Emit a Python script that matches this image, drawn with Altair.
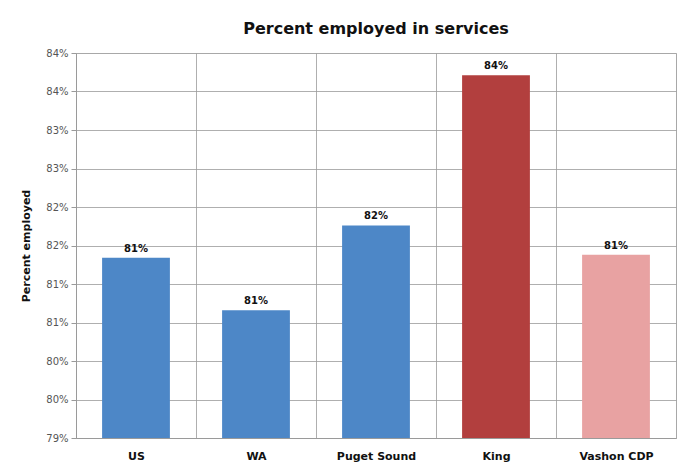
import altair as alt
import pandas as pd

categories = ["US", "WA", "Puget Sound", "King", "Vashon CDP"]
values = [81.34, 80.66, 81.76, 83.71, 81.38]
colors = ["#4d87c7", "#4d87c7", "#4d87c7", "#b23f3e", "#e8a2a2"]
y_ticks = [79.0, 79.5, 80.0, 80.5, 81.0, 81.5, 82.0, 82.5, 83.0, 83.5, 84.0]

df = pd.DataFrame({"category": categories, "value": values, "color": colors, "base": [79.0] * 5})

base = alt.Chart(df).encode(
    x=alt.X(
        "category:N",
        sort=categories,
        title=None,
        scale=alt.Scale(paddingInner=0, paddingOuter=0),
        axis=alt.Axis(
            grid=True,
            tickBand="extent",
            gridColor="#9a9a9a",
            gridWidth=0.8,
            domainColor="#9a9a9a",
            ticks=False,
            labelFont="DejaVu Sans",
            labelFontWeight="bold",
            labelFontSize=11,
            labelColor="#111111",
            labelPadding=12,
            labelAngle=0,
        ),
    ),
)

yscale = alt.Scale(domain=[79, 84], zero=False, nice=False)
yaxis = alt.Axis(
    values=y_ticks,
    labelExpr="round(datum.value) + '%'",
    labelOverlap=False,
    grid=True,
    gridColor="#9a9a9a",
    gridWidth=0.8,
    domainColor="#9a9a9a",
    tickColor="#9a9a9a",
    tickSize=5,
    labelFont="DejaVu Sans",
    labelFontSize=10,
    labelColor="#555555",
    labelPadding=3,
    titleFont="DejaVu Sans",
    titleFontWeight="bold",
    titleFontSize=11,
    titleColor="#111111",
    titlePadding=14,
)

bars = base.mark_bar(stroke=None, width=alt.RelativeBandSize(0.565)).encode(
    y=alt.Y("value:Q", title="Percent employed", scale=yscale, axis=yaxis),
    y2="base:Q",
    color=alt.Color("color:N", scale=None, legend=None),
)

labels = base.mark_text(
    dy=-9, font="DejaVu Sans", fontWeight="bold", fontSize=10, color="#111111"
).encode(
    y=alt.Y("value:Q", title="Percent employed", scale=yscale, axis=yaxis),
    text=alt.Text("label:N"),
).transform_calculate(label="round(datum.value) + '%'")

chart = (
    alt.layer(bars, labels)
    .properties(
        width=600,
        height=385,
        title=alt.TitleParams(
            "Percent employed in services",
            font="DejaVu Sans",
            fontSize=16,
            fontWeight="bold",
            color="#111111",
            offset=11,
            anchor="middle",
        ),
        autosize=alt.AutoSizeParams(type="none"),
        padding={"left": 76, "top": 53, "right": 7, "bottom": 32},
    )
    .configure_view(stroke="#9a9a9a", strokeWidth=1)
    .configure(background="white")
)

chart.save("out.html", embed_options={"renderer": "svg", "actions": False})
